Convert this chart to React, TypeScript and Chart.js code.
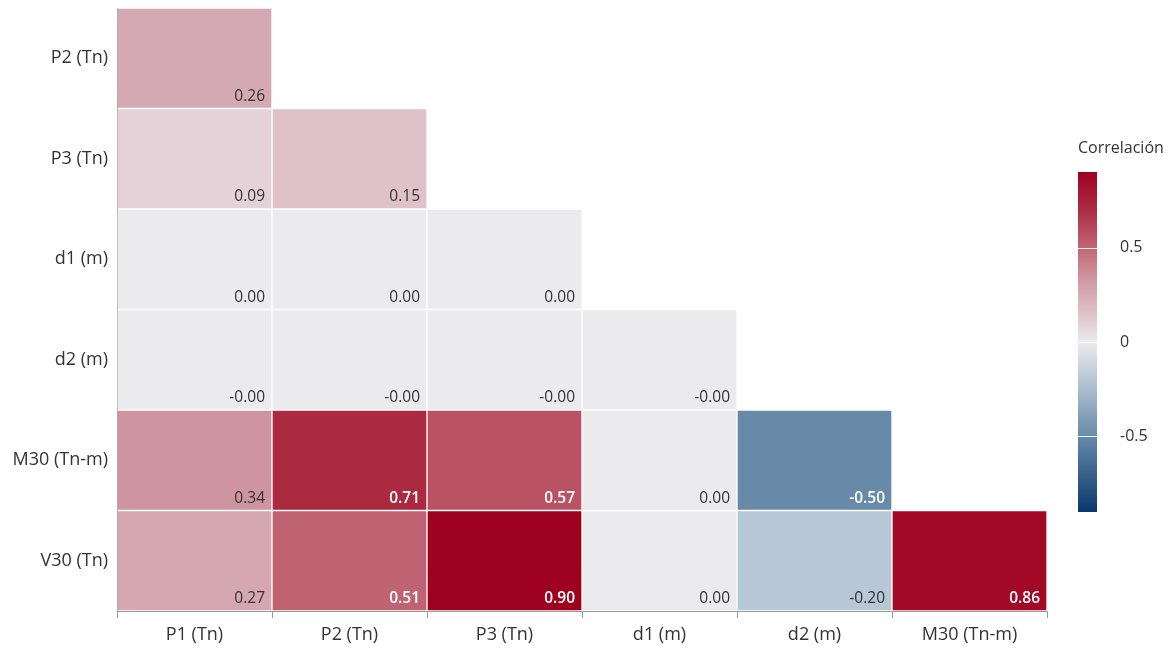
import React, { useEffect, useRef } from "react";
import { Chart, registerables } from "chart.js";

Chart.register(...registerables);

// Columns (x) and rows (y, top to bottom)
const columns = ["P1 (Tn)", "P2 (Tn)", "P3 (Tn)", "d1 (m)", "d2 (m)", "M30 (Tn-m)"];
const rowLabels = ["P2 (Tn)", "P3 (Tn)", "d1 (m)", "d2 (m)", "M30 (Tn-m)", "V30 (Tn)"];

// Correlation values per row (lower triangle)
const rowP2 = [0.26];
const rowP3 = [0.09, 0.15];
const rowD1 = [0.0, 0.0, 0.0];
const rowD2 = [-0.001, -0.001, -0.001, -0.001];
const rowM30 = [0.34, 0.71, 0.57, 0.0, -0.5];
const rowV30 = [0.27, 0.51, 0.9, 0.0, -0.2, 0.86];
const rowValues = [rowP2, rowP3, rowD1, rowD2, rowM30, rowV30];

const colorbarTicks = [0.5, 0, -0.5];
const zRange = [-0.9, 0.9];

const FONT = "'Segoe UI', 'Open Sans', 'Noto Sans', sans-serif";

const stops: [number, number[]][] = [
  [-0.9, [8, 56, 108]],
  [-0.5, [104, 138, 169]],
  [-0.2, [184, 199, 213]],
  [0.0, [235, 235, 238]],
  [0.15, [223, 194, 201]],
  [0.3, [210, 160, 171]],
  [0.5, [192, 102, 117]],
  [0.7, [172, 44, 66]],
  [0.9, [158, 0, 32]],
];

function colorFor(v: number): string {
  if (v <= stops[0][0]) return `rgb(${stops[0][1].join(",")})`;
  for (let i = 1; i < stops.length; i++) {
    if (v <= stops[i][0]) {
      const [a, ca] = stops[i - 1];
      const [b, cb] = stops[i];
      const t = (v - a) / (b - a);
      const c = ca.map((x, k) => Math.round(x + (cb[k] - x) * t));
      return `rgb(${c.join(",")})`;
    }
  }
  return `rgb(${stops[stops.length - 1][1].join(",")})`;
}

const cellLabelPlugin = {
  id: "cellLabels",
  afterDatasetsDraw(chart: any) {
    const ctx = chart.ctx;
    ctx.save();
    chart.data.datasets.forEach((ds: any, di: number) => {
      const meta = chart.getDatasetMeta(di);
      meta.data.forEach((el: any, j: number) => {
        const v = ds.values[j];
        if (v === null || v === undefined) return;
        const right = el.x + el.width / 2;
        const bottom = Math.max(el.y, el.base);
        const strong = Math.abs(v) >= 0.5;
        ctx.font = `${strong ? "600 " : ""}15.5px ${FONT}`;
        ctx.fillStyle = strong ? "#ffffff" : "#333333";
        ctx.textAlign = "right";
        ctx.textBaseline = "alphabetic";
        ctx.fillText(v.toFixed(2), right - 7, bottom - 8);
      });
    });
    ctx.restore();
  },
};

const colorbarPlugin = {
  id: "colorbar",
  afterDraw(chart: any) {
    const ctx = chart.ctx;
    const area = chart.chartArea;
    const x = area.right + 31;
    const w = 19;
    const top = 172;
    const bottom = 512;
    const h = bottom - top;
    const grad = ctx.createLinearGradient(0, bottom, 0, top);
    const n = 36;
    for (let i = 0; i <= n; i++) {
      const v = zRange[0] + ((zRange[1] - zRange[0]) * i) / n;
      grad.addColorStop(i / n, colorFor(v));
    }
    ctx.save();
    ctx.fillStyle = grad;
    ctx.fillRect(x, top, w, h);
    ctx.font = `16px ${FONT}`;
    ctx.fillStyle = "#333333";
    ctx.textAlign = "left";
    ctx.textBaseline = "middle";
    ctx.fillText("Correlación", x, 148);
    colorbarTicks.forEach((t) => {
      const y = bottom - ((t - zRange[0]) / (zRange[1] - zRange[0])) * h;
      ctx.strokeStyle = "rgba(255,255,255,0.9)";
      ctx.lineWidth = 1;
      ctx.beginPath();
      ctx.moveTo(x, Math.round(y) + 0.5);
      ctx.lineTo(x + w, Math.round(y) + 0.5);
      ctx.stroke();
      ctx.fillStyle = "#333333";
      ctx.fillText(String(t), x + 42, y);
    });
    ctx.restore();
  },
};

export default function App() {
  const ref = useRef<HTMLCanvasElement>(null);
  useEffect(() => {
    if (!ref.current) return;
    const nRows = rowLabels.length;
    const datasets = rowValues.map((vals, r) => {
      const yIdx = nRows - 1 - r;
      const data = columns.map((_, j) => (j < vals.length ? [yIdx, yIdx + 1] : null));
      const values = columns.map((_, j) => (j < vals.length ? vals[j] : null));
      return {
        label: rowLabels[r],
        data,
        values,
        backgroundColor: values.map((v) => (v === null ? "transparent" : colorFor(v))),
        borderColor: "rgba(255,255,255,0.2)",
        borderWidth: 1,
        borderSkipped: false,
        grouped: false,
        barPercentage: 1,
        categoryPercentage: 1,
      };
    });
    const chart = new Chart(ref.current, {
      type: "bar",
      data: { labels: columns, datasets: datasets as any },
      options: {
        animation: false,
        responsive: false,
        layout: { padding: { top: 8, right: 126, left: 0, bottom: 0 } },
        plugins: { legend: { display: false }, tooltip: { enabled: false } },
        scales: {
          x: {
            type: "category",
            offset: true,
            grid: {
              offset: true,
              drawOnChartArea: false,
              drawTicks: true,
              tickLength: 7,
              color: "#9a9a9a",
            },
            border: { display: true, color: "#9a9a9a" },
            ticks: { color: "#333333", font: { family: FONT, size: 18 }, padding: 6 },
            afterFit(scale: any) {
              scale.height = 43;
              scale.paddingLeft = 0;
              scale.paddingRight = 0;
            },
          },
          y: {
            type: "linear",
            min: 0,
            max: 6,
            grid: { display: false },
            border: { display: true, color: "#9a9a9a" },
            afterBuildTicks(scale: any) {
              scale.ticks = rowLabels.map((_, i) => ({ value: i + 0.5 }));
            },
            ticks: {
              color: "#333333",
              font: { family: FONT, size: 18 },
              padding: 1,
              callback: (val: any) => rowLabels[nRows - 1 - Math.floor(Number(val))],
            },
            afterFit(scale: any) {
              scale.width = 117;
              scale.paddingTop = 0;
              scale.paddingBottom = 0;
            },
          },
        },
      },
      plugins: [cellLabelPlugin, colorbarPlugin],
    });
    return () => chart.destroy();
  }, []);
  return (
    <div style={{ position: "fixed", left: 0, top: 0, width: 1173, height: 654, background: "#fff" }}>
      <canvas ref={ref} width={1173} height={654} style={{ width: 1173, height: 654 }} />
    </div>
  );
}
